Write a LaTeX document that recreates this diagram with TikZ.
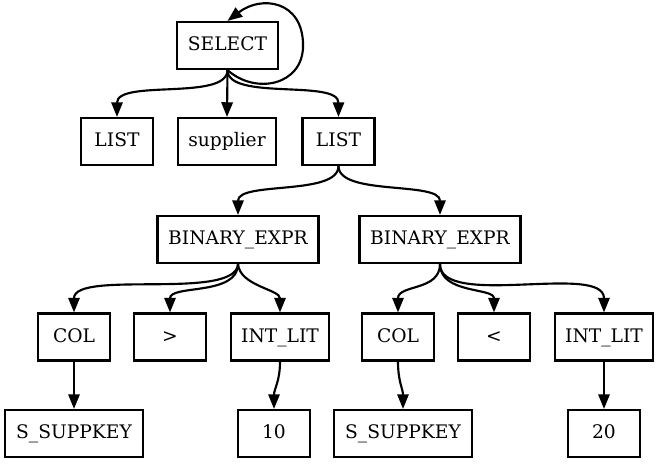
\documentclass[tikz,border=0pt]{standalone}
\usepackage{fontspec}
\setmainfont{DejaVu Serif}
\usetikzlibrary{arrows.meta,calc}
\begin{document}
\begin{tikzpicture}[x=0.75pt,y=-0.75pt,
  box/.style={draw,line width=1.6pt,minimum height=35.25pt,inner sep=0pt,
    text height=10pt,text depth=2pt,font=\fontsize{14}{16}\selectfont},
  wa/.style={box,minimum width=54pt},
  wb/.style={box,minimum width=73.5pt},
  wc/.style={box,minimum width=75.75pt},
  wd/.style={box,minimum width=120.75pt},
  we/.style={box,minimum width=103.5pt},
  edge/.style={line width=1.6pt,-{Triangle[length=11pt,width=8.5pt]}}]
\useasboundingbox (0,0) rectangle (658,465);
% nodes
\node[wc] (sel) at (227.5,45.5) {SELECT};
\node[wa] (l1) at (117,141.5) {LIST};
\node[wb] (sup) at (227,141.5) {supplier};
\node[wa] (l2) at (338.5,141.5) {LIST};
\node[wd] (be1) at (238,239.5) {BINARY\_EXPR};
\node[wd] (be2) at (440,239.5) {BINARY\_EXPR};
\node[wa] (col1) at (74,337) {COL};
\node[wa] (gt) at (170,337) {>};
\node[wb] (int1) at (280,337) {INT\_LIT};
\node[wa] (col2) at (398,337) {COL};
\node[wa] (lt) at (494,337) {<};
\node[wb] (int2) at (604,337) {INT\_LIT};
\node[we] (ss1) at (74,433.5) {S\_SUPPKEY};
\node[wa] (ten) at (274,433.5) {10};
\node[we] (ss2) at (403,433.5) {S\_SUPPKEY};
\node[wa] (tw) at (604,433.5) {20};
% edges
\draw[edge] (sel.south) .. controls +(28,25) and +(0,40) .. ($(sel.east)+(24,0)$)
  .. controls +(0,-45) and +(34,-26) .. (sel.north);
\draw[edge] (sel.south) .. controls +(0,31) and +(0,-38) .. (l1.north);
\draw[edge] (sel.south) -- (sup.north);
\draw[edge] (sel.south) .. controls +(0,31) and +(0,-38) .. (l2.north);
\draw[edge] (l2.south) .. controls +(0,30) and +(0,-34) .. (be1.north);
\draw[edge] (l2.south) .. controls +(0,30) and +(0,-34) .. (be2.north);
\draw[edge] (be1.south) .. controls +(-2,37) and +(0,-43) .. (col1.north);
\draw[edge] (be1.south) .. controls +(0,32) and +(0,-28) .. (gt.north);
\draw[edge] (be1.south) .. controls +(2,22) and +(0,-23) .. (int1.north);
\draw[edge] (be2.south) .. controls +(0,27) and +(0,-28) .. (col2.north);
\draw[edge] (be2.south) .. controls +(0,30) and +(0,-25) .. (lt.north);
\draw[edge] (be2.south) .. controls +(0,45) and +(0,-50) .. (int2.north);
\draw[edge] (col1.south) -- (ss1.north);
\draw[edge] (int1.south) .. controls +(0,20) and +(0,-20) .. (ten.north);
\draw[edge] (col2.south) .. controls +(0,20) and +(0,-20) .. (ss2.north);
\draw[edge] (int2.south) -- (tw.north);
\end{tikzpicture}
\end{document}
